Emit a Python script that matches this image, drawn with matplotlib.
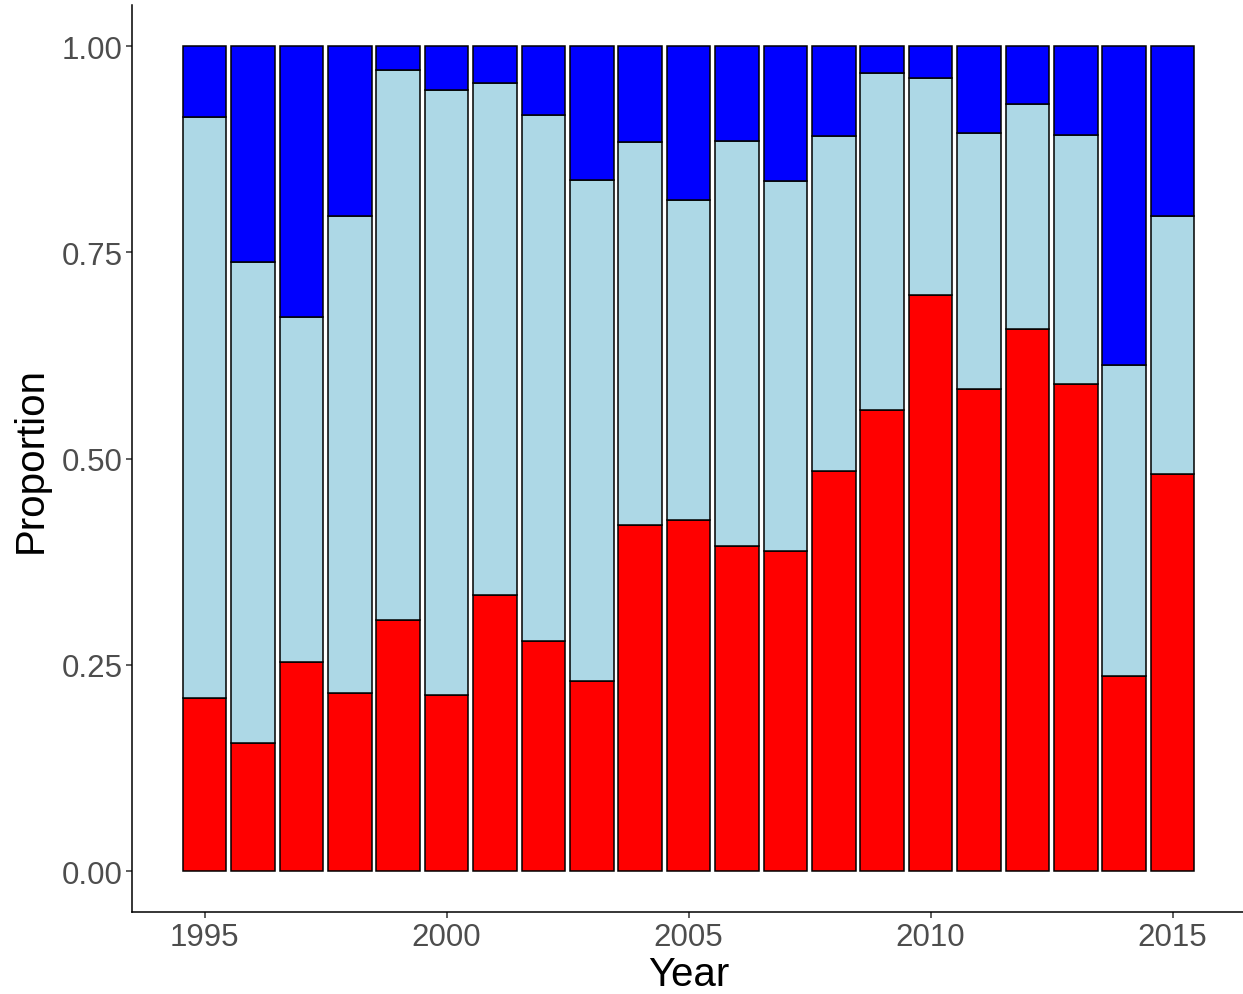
import matplotlib
matplotlib.use("Agg")
import matplotlib.pyplot as plt
import numpy as np

plt.rcParams['font.family'] = ['Liberation Sans', 'DejaVu Sans']

years = np.arange(1995, 2016)
red = [0.210, 0.155, 0.253, 0.216, 0.305, 0.214, 0.335, 0.279, 0.230, 0.420, 0.426,
       0.394, 0.388, 0.485, 0.559, 0.698, 0.585, 0.657, 0.591, 0.236, 0.482]
lightblue_top = [0.914, 0.738, 0.672, 0.794, 0.971, 0.947, 0.956, 0.917, 0.838, 0.884, 0.814,
                 0.885, 0.837, 0.891, 0.967, 0.961, 0.895, 0.930, 0.892, 0.614, 0.794]

red = np.array(red)
lb = np.array(lightblue_top) - red
blue = 1 - np.array(lightblue_top)

fig = plt.figure(figsize=(12.43, 9.95), dpi=100)
ax = fig.add_axes([0.1062, 0.082, 0.8955, 0.912])

kw = dict(width=0.9, edgecolor="black", linewidth=1.1)
ax.bar(years, red, color="red", **kw)
ax.bar(years, lb, bottom=red, color="lightblue", **kw)
ax.bar(years, blue, bottom=red + lb, color="blue", **kw)

ax.set_xlim(1993.5, 2016.5)
ax.set_ylim(-0.05, 1.05)
ax.set_xticks([1995, 2000, 2005, 2010, 2015])
ax.set_yticks([0, 0.25, 0.5, 0.75, 1.0])
ax.set_yticklabels(["0.00", "0.25", "0.50", "0.75", "1.00"])
ax.tick_params(labelsize=22.5, labelcolor="#4D4D4D", color="#333333", length=4, width=1.1, pad=3)
for s in ["top", "right"]:
    ax.spines[s].set_visible(False)
for s in ["left", "bottom"]:
    ax.spines[s].set_linewidth(1.1)

ax.set_xlabel("Year", fontsize=29, labelpad=2)
ax.set_ylabel("Proportion", fontsize=29, labelpad=8)

fig.savefig("out.png", dpi=100)
